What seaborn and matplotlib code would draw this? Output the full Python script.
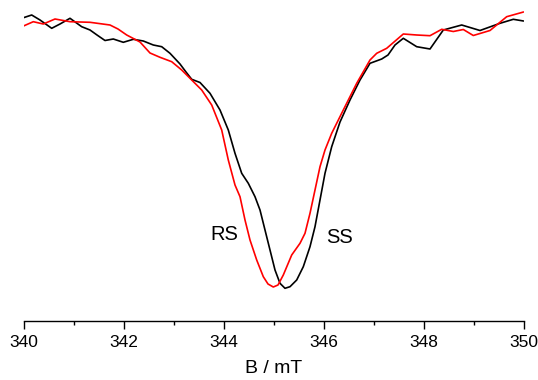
import matplotlib
matplotlib.use("Agg")
import matplotlib.pyplot as plt
import seaborn as sns
from matplotlib.ticker import MultipleLocator

# Magnetic field (mT) and signal (a.u.)
ss_field = [340.0, 340.164, 340.33, 340.564, 340.73, 340.93, 341.164, 341.33, 341.47, 341.63,
            341.796, 341.996, 342.196, 342.396, 342.596, 342.764, 342.93, 343.13, 343.25, 343.364,
            343.53, 343.73, 343.93, 344.096, 344.23, 344.364, 344.496, 344.63, 344.73, 344.83,
            344.93, 345.03, 345.13, 345.23, 345.33, 345.464, 345.596, 345.73, 345.83, 345.93,
            346.03, 346.164, 346.33, 346.53, 346.73, 346.93, 347.164, 347.29, 347.43, 347.596,
            347.864, 348.13, 348.396, 348.764, 349.13, 349.53, 349.796, 350.0]
ss_signal = [282.3, 285, 280, 271.7, 276, 281.7, 273.3, 270, 265, 259.5,
             261, 257.7, 260.7, 259, 255, 253.3, 246.7, 236, 228, 220.7,
             217.5, 206.7, 190, 170, 146.7, 126.7, 116.7, 103.3, 90, 70,
             50, 30, 16.7, 11.7, 13.3, 20, 33.3, 53.3, 73.3, 100,
             126.7, 153.3, 178, 200, 220, 236.7, 241, 245, 255, 261.7,
             253.3, 251, 270, 275, 269.5, 276.7, 280.7, 279]

rs_field = [340.0, 340.196, 340.396, 340.63, 340.93, 341.33, 341.73, 341.89, 342.064, 342.33,
            342.53, 342.73, 342.964, 343.164, 343.364, 343.564, 343.764, 343.964, 344.096, 344.23,
            344.33, 344.43, 344.53, 344.664, 344.796, 344.89, 344.996, 345.09, 345.196, 345.364,
            345.53, 345.63, 345.73, 345.83, 345.93, 346.03, 346.164, 346.396, 346.664, 346.93,
            347.064, 347.264, 347.496, 347.596, 347.864, 348.13, 348.364, 348.596, 348.796, 348.996,
            349.33, 349.664, 350.0]
rs_signal = [274, 278.3, 276, 281, 278.3, 277.7, 275, 271, 265, 258,
             247, 242.7, 238.3, 230, 220, 210, 195, 170, 140, 115,
             103.3, 80, 60, 40, 23.3, 16, 13, 15, 25, 45,
             56.7, 66.7, 86.7, 110, 133.3, 150, 166.7, 190, 216.7, 240,
             246.7, 251.7, 261.7, 266, 265, 264.3, 270.7, 268.5, 270.5, 264.5,
             269.5, 283.3, 288]

x_ticks = [340, 342, 344, 346, 348, 350]
x_label = "B / mT"

sns.set_style("ticks")
plt.rcParams['font.family'] = ['Liberation Sans', 'DejaVu Sans']
plt.rcParams['text.color'] = 'black'
plt.rcParams['axes.labelcolor'] = 'black'
plt.rcParams['xtick.color'] = 'black'

fig = plt.figure(figsize=(5.38, 3.80), dpi=100)
ax = fig.add_axes([23.5 / 538, 59 / 380, 500 / 538, 316 / 380])

sns.lineplot(x=ss_field, y=ss_signal, color="black", linewidth=1.2, ax=ax, sort=False)
sns.lineplot(x=rs_field, y=rs_signal, color="#ff0000", linewidth=1.2, ax=ax, sort=False)

ax.set_xlim(340, 350)
ax.set_ylim(-21, 295)
ax.set_xticks(x_ticks)
ax.xaxis.set_minor_locator(MultipleLocator(1))
ax.tick_params(axis="x", which="major", length=6, width=1, direction="out", labelsize=12.5,
               pad=4, colors="black")
ax.tick_params(axis="x", which="minor", length=3, width=1, direction="out", colors="black")
ax.set_yticks([])
ax.set_xlabel(x_label, fontsize=14, labelpad=7, color="black")
ax.set_ylabel("")
for s in ["left", "top", "right"]:
    ax.spines[s].set_visible(False)
ax.spines["bottom"].set_linewidth(1)
ax.spines["bottom"].set_color("black")

ax.text(344.01, 300 - 235, "RS", fontsize=14.5, ha="center", va="center", color="black")
ax.text(346.33, 300 - 237.5, "SS", fontsize=14.5, ha="center", va="center", color="black")

fig.savefig("out.png", dpi=100)
